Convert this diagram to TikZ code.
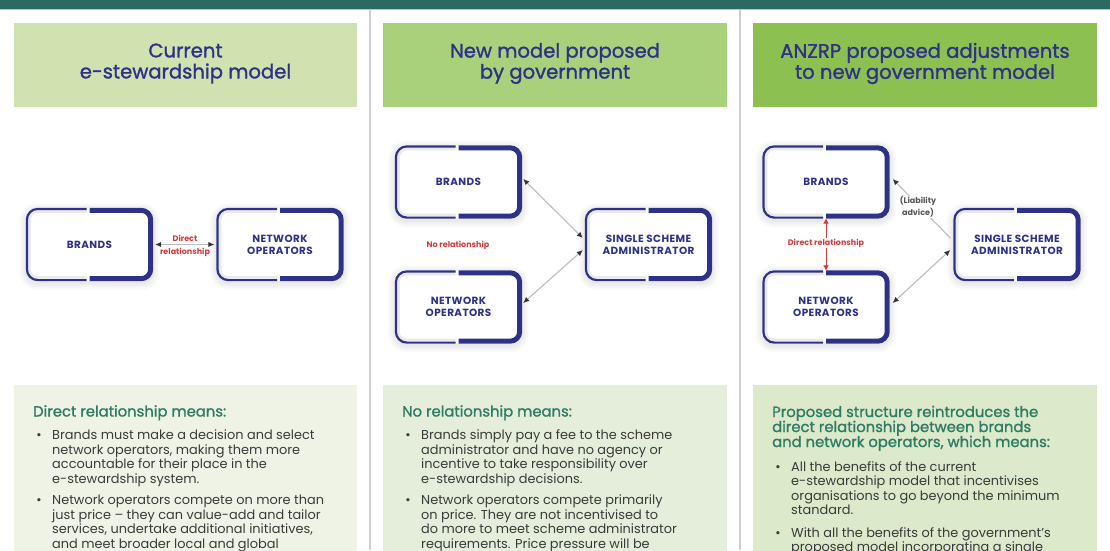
\documentclass[tikz,border=0pt]{standalone}
\usepackage{fontspec}
\setmainfont{Poppins}
\newfontfamily\boxfont[LetterSpace=4]{Poppins}
\newfontfamily\medfont[FakeBold=1.3]{Poppins}
\usetikzlibrary{arrows.meta}
\definecolor{barc}{HTML}{2B6A5E}
\definecolor{barline}{HTML}{A9CFC8}
\definecolor{sepc}{HTML}{CFCFD3}
\definecolor{navyc}{HTML}{2E3188}
\definecolor{hdA}{HTML}{CFE2AF}
\definecolor{hdB}{HTML}{A9D17B}
\definecolor{hdC}{HTML}{8CC152}
\definecolor{btA}{HTML}{EEF3E6}
\definecolor{btB}{HTML}{E5EEDA}
\definecolor{btC}{HTML}{DCE9CA}
\definecolor{redc}{HTML}{D43A3A}
\definecolor{linec}{HTML}{BDBDBD}
\definecolor{tipc}{HTML}{333333}
\definecolor{headc}{HTML}{2F7C64}
\definecolor{bodyc}{HTML}{3A3A3A}
\definecolor{innersh}{HTML}{EAEAEE}
\definecolor{lblgray}{HTML}{555555}
\pgfdeclarelayer{back}
\pgfdeclarelayer{deco}
\pgfsetlayers{back,deco,main}
\newcommand\drawebox[1]{%
  \begin{pgfonlayer}{deco}
  \foreach \s in {1,...,7}
    \fill[black, opacity=0.012, rounded corners=12+\s] ([shift={(-\s,-\s+2)}]#1.north west) rectangle ([shift={(\s,\s+2)}]#1.south east);
  \fill[white, rounded corners=12] (#1.north west) rectangle (#1.south east);
  \draw[innersh, line width=3pt, rounded corners=8] ([shift={(-3,3.6)}]#1.north) -- ([shift={(3.6,3.6)}]#1.north west) -- ([shift={(3.6,-3.6)}]#1.south west) -- ([shift={(-3,-3.6)}]#1.south);
  \draw[navyc, line width=2.2pt, rounded corners=10.9] ([shift={(-3,1.1)}]#1.north) -- ([shift={(1.1,1.1)}]#1.north west) -- ([shift={(1.1,-1.1)}]#1.south west) -- ([shift={(-3,-1.1)}]#1.south);
  \draw[navyc, line width=5pt, rounded corners=9.5] ([shift={(0,2.5)}]#1.north) -- ([shift={(-2.5,2.5)}]#1.north east) -- ([shift={(-2.5,-2.5)}]#1.south east) -- ([shift={(0,-2.5)}]#1.south);
  \end{pgfonlayer}}
\begin{document}
\begin{tikzpicture}[x=1pt,y=-1pt,
  ebox/.style={minimum width=127pt, minimum height=73pt, inner sep=0pt, align=center,
    font=\boxfont\bfseries\fontsize{10.4}{12}\selectfont, text=navyc},
  htext/.style={align=center, text=navyc, font=\medfont\fontsize{19.6}{21}\selectfont},
  redlbl/.style={text=redc, font=\bfseries\fontsize{8}{9}\selectfont, inner sep=1pt},
  conn/.style={draw=linec, line width=1.1pt},
  tp/.tip={Latex[length=6pt,width=5.5pt,color=tipc]},
  rtp/.tip={Triangle[length=5pt,width=5pt,color=redc]},
  bhead/.style={anchor=base west, text=headc, font=\medfont\fontsize{14.8}{15}\selectfont, inner sep=0pt},
  btext/.style={anchor=base west, text=bodyc, font=\fontsize{12.9}{14.5}\selectfont, inner sep=0pt},
  bdot/.style={anchor=base, text=bodyc, font=\fontsize{12.9}{14.5}\selectfont, inner sep=0pt}
]
\useasboundingbox (0,0) rectangle (1110,550);
\clip (0,0) rectangle (1110,550);
\begin{pgfonlayer}{back}
\fill[white] (0,0) rectangle (1110,550);
\fill[barc] (0,0) rectangle (1110,9);
\fill[barline] (0,9) rectangle (1110,10.2);
\fill[sepc] (369,10.2) rectangle (371,550);
\fill[sepc] (739,10.2) rectangle (741,550);
\fill[hdA] (14,23) rectangle (357,107);
\fill[hdB] (383,23) rectangle (727,107);
\fill[hdC] (753,23) rectangle (1097,107);
\fill[btA] (14,385) rectangle (357,560);
\fill[btB] (383,385) rectangle (727,560);
\fill[btC] (753,385) rectangle (1097,560);
\end{pgfonlayer}

% headers
\node[htext] (hA) at (185.5,63.5) {Current\\e-stewardship model};
\node[htext] (hB) at (555,63.5) {New model proposed\\by government};
\node[htext] (hC) at (925,63.5) {ANZRP proposed adjustments\\to new government model};

% column 1
\node[ebox] (b1) at (89.5,244.5) {BRANDS}; \drawebox{b1}
\node[ebox] (n1) at (280,244.5) {NETWORK\\OPERATORS}; \drawebox{n1}
\draw[conn, tp-tp] ([xshift=2pt]b1.east) -- ([xshift=-2pt]n1.west);
\node[redlbl] (l1a) at (185,238) {Direct};
\node[redlbl] (l1b) at (185,252) {relationship};

% column 2
\node[ebox] (b2) at (458.5,182) {BRANDS}; \drawebox{b2}
\node[ebox] (n2) at (458.5,307) {NETWORK\\OPERATORS}; \drawebox{n2}
\node[ebox] (s2) at (648.5,244.5) {SINGLE SCHEME\\ADMINISTRATOR}; \drawebox{s2}
\draw[conn, tp-tp] ([shift={(1,-3)}]b2.east) -- ([shift={(-2,-6.5)}]s2.west);
\draw[conn, tp-tp] ([shift={(-2,5.5)}]s2.west) -- ([shift={(1,-4)}]n2.east);
\node[redlbl] (l2) at (458,245) {No relationship};

% column 3
\node[ebox] (b3) at (826,182) {BRANDS}; \drawebox{b3}
\node[ebox] (n3) at (826,307) {NETWORK\\OPERATORS}; \drawebox{n3}
\node[ebox] (s3) at (1017,244.5) {SINGLE SCHEME\\ADMINISTRATOR}; \drawebox{s3}
\draw[conn, -tp] ([shift={(-3,-6.5)}]s3.west) -- ([shift={(3,-3)}]b3.east);
\draw[conn, tp-tp] ([shift={(-3,5.5)}]s3.west) -- ([shift={(3,-4)}]n3.east);
\draw[redc, line width=1pt, rtp-rtp] (b3.south) -- (n3.north);
\node[redlbl, fill=white] (l3) at (826,243) {Direct relationship};
\node[fill=white, inner sep=1pt, align=center, text=lblgray, font=\bfseries\fontsize{8}{12}\selectfont] (l4) at (918,207) {(Liability\\advice)};

% bottom texts column 1
\node[bhead] (t1h) at (33,416.5) {Direct relationship means:};
\node[bdot] (t1d1) at (39,439.5) {•};
\foreach \t [count=\i] in {Brands must make a decision and select, {network operators, making them more}, accountable for their place in the, e-stewardship system.}
  \node[btext] (t1a\i) at (52,439.5+14.5*\i-14.5) {\t};
\node[bdot] (t1d2) at (39,504.5) {•};
\foreach \t [count=\i] in {Network operators compete on more than, just price – they can value-add and tailor, {services, undertake additional initiatives,}, and meet broader local and global}
  \node[btext] (t1b\i) at (52,504.5+14.5*\i-14.5) {\t};

% column 2
\node[bhead] (t2h) at (402,416.5) {No relationship means:};
\node[bdot] (t2d1) at (408,439.5) {•};
\foreach \t [count=\i] in {Brands simply pay a fee to the scheme, administrator and have no agency or, incentive to take responsibility over, e-stewardship decisions.}
  \node[btext] (t2a\i) at (421,439.5+14.5*\i-14.5) {\t};
\node[bdot] (t2d2) at (408,504.5) {•};
\foreach \t [count=\i] in {Network operators compete primarily, on price. They are not incentivised to, do more to meet scheme administrator, requirements. Price pressure will be}
  \node[btext] (t2b\i) at (421,504.5+14.5*\i-14.5) {\t};

% column 3
\foreach \t [count=\i] in {Proposed structure reintroduces the, direct relationship between brands, {and network operators, which means:}}
  \node[bhead] (t3h\i) at (772,417+15*\i-15) {\t};
\node[bdot] (t3d1) at (778,471) {•};
\foreach \t [count=\i] in {All the benefits of the current, e-stewardship model that incentivises, organisations to go beyond the minimum, standard.}
  \node[btext] (t3a\i) at (791,471+14.5*\i-14.5) {\t};
\node[bdot] (t3d2) at (778,537) {•};
\foreach \t [count=\i] in {With all the benefits of the government’s, proposed model incorporating a single}
  \node[btext] (t3b\i) at (791,537+14.5*\i-14.5) {\t};
\end{tikzpicture}
\end{document}
